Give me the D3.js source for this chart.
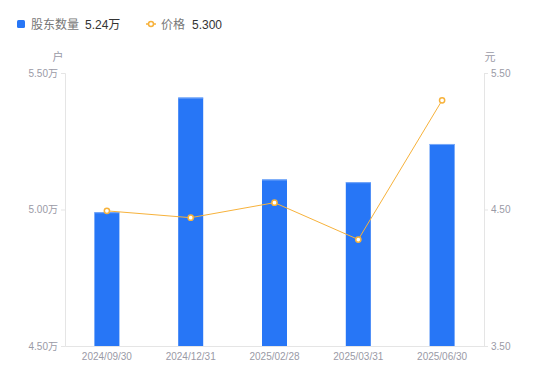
<!DOCTYPE html>
<html><head><meta charset="utf-8">
<script src="https://cdn.jsdelivr.net/npm/d3@7"></script>
<style>body{margin:0;background:#fff;font-family:"Noto Sans CJK SC","Noto Sans",sans-serif;}</style>
</head><body>
<svg id="c" width="550" height="381"></svg>
<script>
const categories = ["2024/09/30","2024/12/31","2025/02/28","2025/03/31","2025/06/30"];
const holders = [4.99, 5.41, 5.11, 5.10, 5.24];   // 万户
const prices = [4.49, 4.44, 4.55, 4.28, 5.30];     // 元
const leftTicks = [4.5, 5.0, 5.5];
const rightTicks = [3.5, 4.5, 5.5];

const svg = d3.select("#c");
const m = {l:65, r:484, t:73, b:346};
const font = '"Liberation Sans", Arial, sans-serif';
const cjk = '"Noto Sans CJK SC", sans-serif';
const barColor = "#2776F6", lineColor = "#F7B23B", axisColor = "#E5E5E5", tickText = "#9A9AA6";

const x = d3.scaleBand().domain(categories).range([m.l, m.r]).paddingInner(0).paddingOuter(0);
const yL = d3.scaleLinear().domain([4.5, 5.5]).range([m.b, m.t]);
const yR = d3.scaleLinear().domain([3.5, 5.5]).range([m.b, m.t]);

// axes
const gl = svg.append("g").attr("transform", `translate(${m.l},0)`)
  .call(d3.axisLeft(yL).tickValues(leftTicks).tickSize(4).tickPadding(3).tickFormat(d => d3.format(".2f")(d) + "万"));
const gr = svg.append("g").attr("transform", `translate(${m.r},0)`)
  .call(d3.axisRight(yR).tickValues(rightTicks).tickSize(4).tickPadding(3).tickFormat(d3.format(".2f")));
const gx = svg.append("g").attr("transform", `translate(0,${m.b})`)
  .call(d3.axisBottom(x).tickSize(0).tickPadding(7));
[gl, gr, gx].forEach(g => {
  g.selectAll("path.domain").attr("stroke", axisColor);
  g.selectAll(".tick line").attr("stroke", axisColor);
  g.selectAll("text").attr("fill", tickText).attr("font-size", 10).attr("font-family", font);
});
gl.selectAll("text").attr("font-family", cjk + "," + font).attr("font-family", '"Liberation Sans", "Noto Sans CJK SC", sans-serif');

// unit labels
svg.append("text").attr("x", 58).attr("y", 61).attr("text-anchor", "middle").attr("font-size", 11)
  .attr("fill", tickText).attr("font-family", cjk).text("户");
svg.append("text").attr("x", 490).attr("y", 61).attr("text-anchor", "middle").attr("font-size", 11)
  .attr("fill", tickText).attr("font-family", cjk).text("元");

// bars
const bw = 25;
svg.append("g").selectAll("rect").data(holders).join("rect")
  .attr("x", (d,i) => x(categories[i]) + x.bandwidth()/2 - bw/2)
  .attr("y", d => yL(d))
  .attr("width", bw)
  .attr("height", d => m.b - yL(d))
  .attr("fill", barColor);
svg.append("g").selectAll("line").data(holders).join("line")
  .attr("x1", (d,i) => x(categories[i]) + x.bandwidth()/2 - bw/2)
  .attr("x2", (d,i) => x(categories[i]) + x.bandwidth()/2 + bw/2)
  .attr("y1", d => yL(d) + 0.5).attr("y2", d => yL(d) + 0.5)
  .attr("stroke", "#7AAAF8").attr("stroke-width", 1);

// line
const cx = (d,i) => x(categories[i]) + x.bandwidth()/2;
svg.append("path").datum(prices)
  .attr("fill", "none").attr("stroke", lineColor).attr("stroke-width", 1)
  .attr("d", d3.line().x(cx).y(d => yR(d)));
svg.append("g").selectAll("circle").data(prices).join("circle")
  .attr("cx", cx).attr("cy", d => yR(d)).attr("r", 2.6)
  .attr("fill", "#fff").attr("stroke", lineColor).attr("stroke-width", 1.5);

// legend
const lg = svg.append("g");
lg.append("rect").attr("x", 17).attr("y", 20).attr("width", 8).attr("height", 8).attr("rx", 1.5).attr("fill", barColor);
lg.append("text").attr("x", 31).attr("y", 29).attr("font-size", 12).attr("fill", "#777").attr("font-family", cjk).text("股东数量");
lg.append("text").attr("x", 85).attr("y", 29).attr("font-size", 12).attr("fill", "#333").attr("font-family", '"Liberation Sans", "Noto Sans CJK SC", sans-serif').text("5.24万");
lg.append("line").attr("x1", 146).attr("x2", 156).attr("y1", 24).attr("y2", 24).attr("stroke", lineColor).attr("stroke-width", 1.5);
lg.append("circle").attr("cx", 151).attr("cy", 24).attr("r", 2.5).attr("fill", "#fff").attr("stroke", lineColor).attr("stroke-width", 1.5);
lg.append("text").attr("x", 161).attr("y", 29).attr("font-size", 12).attr("fill", "#777").attr("font-family", cjk).text("价格");
lg.append("text").attr("x", 192).attr("y", 29).attr("font-size", 12).attr("fill", "#333").attr("font-family", '"Liberation Sans", sans-serif').text("5.300");
</script>
</body></html>
